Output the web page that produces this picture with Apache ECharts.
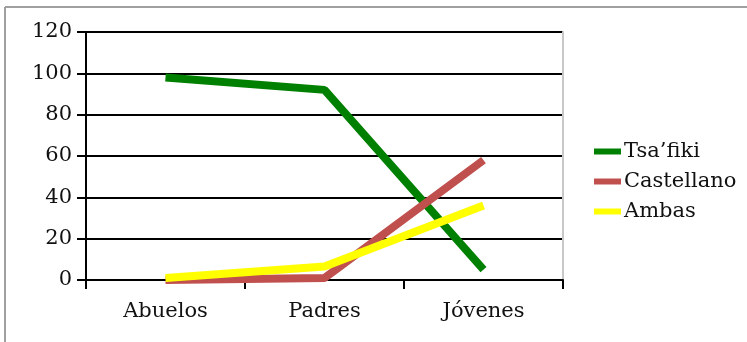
<!DOCTYPE html>
<html>
<head>
<meta charset="utf-8">
<script src="https://cdn.jsdelivr.net/npm/echarts@6/dist/echarts.min.js"></script>
<style>
  html, body { margin: 0; padding: 0; background: #fff; }
  #chart { width: 747px; height: 342px; }
</style>
</head>
<body>
<div id="chart"></div>
<script>
var categories = ['Abuelos', 'Padres', 'Jóvenes'];
var seriesNames = ['Tsa’fiki', 'Castellano', 'Ambas'];
var tsafiki = [98, 92, 5];
var castellano = [0, 1, 58];
var ambas = [1, 6.5, 36];
var colors = ['#008000', '#C0504D', '#FFFF00'];

var font = 'DejaVu Serif';
var chart = echarts.init(document.getElementById('chart'));

function line(name, data, color) {
  return {
    name: name,
    type: 'line',
    data: data,
    symbol: 'none',
    lineStyle: { width: 8, color: color, cap: 'butt' },
    itemStyle: { color: color },
    animation: false
  };
}

var option = {
  animation: false,
  backgroundColor: '#fff',
  grid: { left: 86, right: 184, top: 32, bottom: 62 },
  legend: {
    orient: 'vertical',
    left: 589,
    top: 136,
    icon: 'rect',
    itemWidth: 27,
    itemHeight: 6,
    itemGap: 9,
    textStyle: { fontFamily: font, fontSize: 21, color: '#111', padding: [0, 0, 0, -2] },
    data: seriesNames
  },
  xAxis: {
    type: 'category',
    data: categories,
    boundaryGap: true,
    axisLine: { lineStyle: { color: '#000', width: 2 } },
    axisTick: { show: true, length: 9, lineStyle: { color: '#000', width: 2 } },
    axisLabel: { fontFamily: font, fontSize: 21, color: '#111', margin: 21 },
    splitLine: { show: false }
  },
  yAxis: [{
    type: 'value',
    min: 0,
    max: 120,
    interval: 20,
    axisLine: { show: true, lineStyle: { color: '#000', width: 2 } },
    axisTick: { show: true, length: 9, lineStyle: { color: '#000', width: 2 } },
    axisLabel: { fontFamily: font, fontSize: 21, color: '#111', margin: 14 },
    splitLine: { show: true, lineStyle: { color: '#000', width: 2 } }
  }, {
    type: 'value',
    position: 'right',
    min: 0,
    max: 120,
    interval: 20,
    axisLine: { show: true, lineStyle: { color: '#c8c8c8', width: 2 } },
    axisTick: { show: false },
    axisLabel: { show: false },
    splitLine: { show: false }
  }],
  graphic: [
    { type: 'line', shape: { x1: 5, y1: 7, x2: 747, y2: 7 }, style: { stroke: '#a0a0a0', lineWidth: 2 } },
    { type: 'line', shape: { x1: 5, y1: 7, x2: 5, y2: 342 }, style: { stroke: '#a0a0a0', lineWidth: 2 } }
  ],
  series: [
    line(seriesNames[0], tsafiki, colors[0]),
    line(seriesNames[1], castellano, colors[1]),
    line(seriesNames[2], ambas, colors[2])
  ]
};
chart.setOption(option);
</script>
</body>
</html>
